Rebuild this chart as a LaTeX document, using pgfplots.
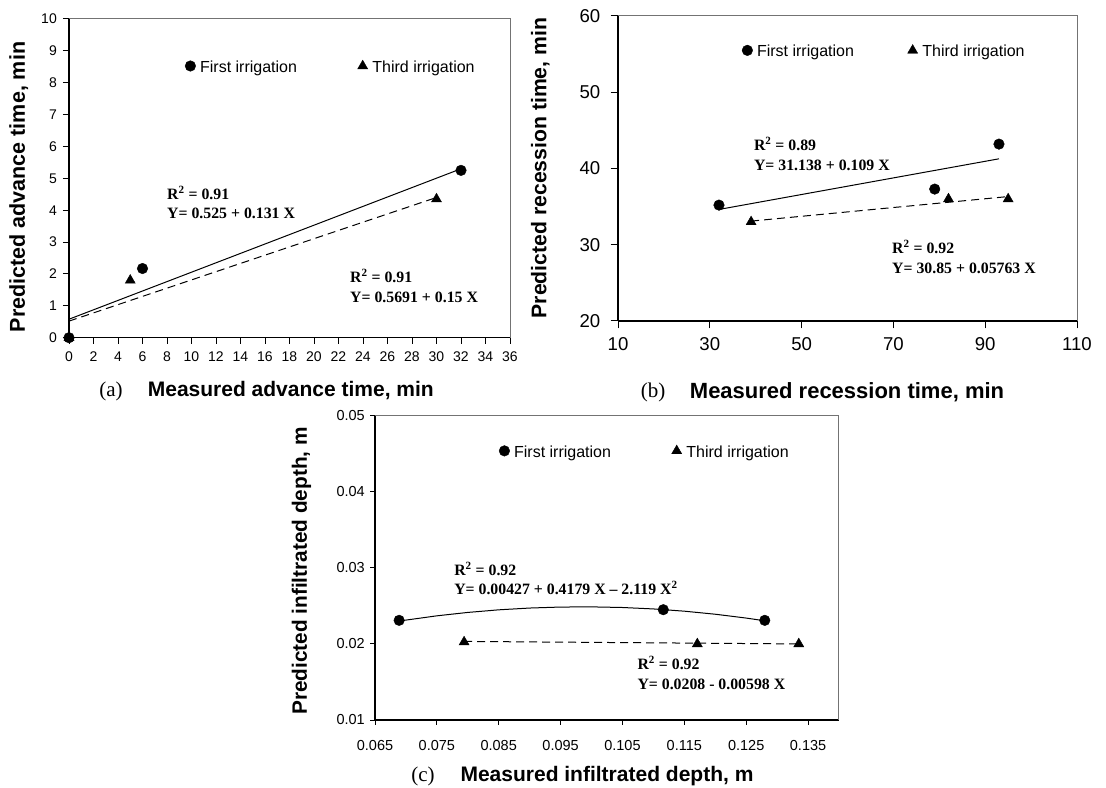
\documentclass[border=0pt]{standalone}
\usepackage{fontspec}
\setmainfont{Liberation Serif}
\setsansfont{Liberation Sans}
\usepackage{pgfplots}
\pgfplotsset{compat=1.18}
\definecolor{framegray}{gray}{0.45}
\tikzset{ann/.style={font=\rmfamily\bfseries\fontsize{15.8bp}{19.5bp}\selectfont, align=left, anchor=west, inner sep=0pt}}
\pgfplotsset{
  common/.style={
    scale only axis, anchor=south west, clip=false,
    axis x line*=bottom, axis y line*=left,
    axis line style={black, line width=1.4bp},
    tick style={black, line width=1bp},
    tick align=outside,
    scaled ticks=false,
    /pgf/number format/assume math mode=true,
    xticklabel style={anchor=north, inner sep=0pt},
    yticklabel style={anchor=east, inner sep=0pt},
    every axis y label/.style={rotate=90, anchor=base},
    every axis x label/.style={anchor=base},
    label style={font=\sffamily\bfseries\fontsize{21bp}{24bp}\selectfont},
    legend style={draw=none, fill=none, legend columns=2, anchor=west,
      inner xsep=0pt, inner ysep=0pt,
      font=\sffamily\fontsize{16bp}{19bp}\selectfont, nodes={inner sep=0pt},
      /tikz/every odd column/.append style={column sep=4bp}},
    legend image code/.code={\path (0bp,0bp) (11bp,0bp); \draw plot coordinates {(5.5bp,1.5bp)};},
  },
  s1/.style={only marks, mark=*, mark size=5.3bp, black},
  s3/.style={only marks, mark=triangle*, mark size=5.8bp, black},
  fit1/.style={black, line width=1bp, no marks},
  fit3/.style={black, line width=1bp, no marks, dash pattern=on 8bp off 5bp},
}
\begin{document}
\begin{tikzpicture}
\useasboundingbox (0,0) rectangle (1106bp,788bp);

% ---------------- (a) ----------------
\begin{axis}[common, at={(69bp,450.3bp)}, width=441bp, height=318.7bp,
  xmin=0, xmax=36, ymin=0, ymax=10,
  xtick={0,2,...,36}, ytick={0,1,...,10},
  major tick length=6bp,
  tick label style={font=\sffamily\fontsize{14bp}{16bp}\selectfont},
  xticklabel style={yshift=-8bp}, yticklabel style={xshift=-6bp},
  xlabel={Measured advance time, min},
  ylabel={Predicted advance time, min},
  xlabel style={at={(axis description cs:0.503,-0.185)}},
  ylabel style={at={(axis description cs:-0.0998,0.473)}, font=\sffamily\bfseries\fontsize{21.5bp}{24bp}\selectfont},
  legend style={at={(axis description cs:0.2619,0.849)},
    /tikz/every even column/.append style={column sep=60bp}},
]
\draw[framegray, line width=1bp] (rel axis cs:0,1) -- (rel axis cs:1,1) -- (rel axis cs:1,0);
\addplot[fit1, forget plot] coordinates {(0,0.58) (32,5.3)};
\addplot[fit3, forget plot] coordinates {(0,0.52) (30,4.4)};
\addplot[s1] coordinates {(0,0) (6,2.17) (32,5.25)};
\addplot[s3] coordinates {(0,0) (5,1.8) (30,4.35)};
\legend{First irrigation, Third irrigation}
\node[ann] at (axis cs:8.0,4.24) {R\textsuperscript{2} = 0.91\\Y= 0.525 + 0.131 X};
\node[ann] at (axis cs:22.94,1.62) {R\textsuperscript{2} = 0.91\\Y= 0.5691 + 0.15 X};
\end{axis}

% ---------------- (b) ----------------
\begin{axis}[common, at={(618bp,467bp)}, width=459bp, height=305bp,
  xmin=10, xmax=110, ymin=20, ymax=60,
  xtick={10,30,...,110}, ytick={20,30,...,60},
  major tick length=7.5bp,
  tick label style={font=\sffamily\fontsize{18.6bp}{21bp}\selectfont},
  xticklabel style={yshift=-9bp}, yticklabel style={xshift=-10bp},
  xlabel={Measured recession time, min},
  ylabel={Predicted recession time, min},
  xlabel style={at={(axis description cs:0.499,-0.2525)}, font=\sffamily\bfseries\fontsize{22bp}{25bp}\selectfont},
  ylabel style={at={(axis description cs:-0.1558,0.5016)}, font=\sffamily\bfseries\fontsize{21.2bp}{24bp}\selectfont},
  legend style={at={(axis description cs:0.269,0.8836)},
    /tikz/every even column/.append style={column sep=53bp}},
]
\draw[framegray, line width=1bp] (rel axis cs:0,1) -- (rel axis cs:1,1) -- (rel axis cs:1,0);
\addplot[fit1, forget plot] coordinates {(32,34.63) (93,41.27)};
\addplot[fit3, forget plot] coordinates {(39,33.10) (95,36.32)};
\addplot[s1] coordinates {(32,35.2) (79,37.3) (93,43.2)};
\addplot[s3] coordinates {(39,33.0) (82,36.0) (95,36.0)};
\legend{First irrigation, Third irrigation}
\node[ann] at (axis cs:39.6,41.9) {R\textsuperscript{2} = 0.89\\Y= 31.138 + 0.109 X};
\node[ann] at (axis cs:69.7,28.4) {R\textsuperscript{2} = 0.92\\Y= 30.85 + 0.05763 X};
\end{axis}

% ---------------- (c) ----------------
\begin{axis}[common, at={(375bp,68bp)}, width=464bp, height=304.3bp,
  xmin=0.065, xmax=0.140, ymin=0.01, ymax=0.05,
  xtick={0.065,0.075,0.085,0.095,0.105,0.115,0.125,0.135},
  xticklabels={0.065,0.075,0.085,0.095,0.105,0.115,0.125,0.135},
  ytick={0.01,0.02,0.03,0.04,0.05},
  yticklabels={0.01,0.02,0.03,0.04,0.05},
  major tick length=5bp,
  tick label style={font=\sffamily\fontsize{14.5bp}{16bp}\selectfont},
  xticklabel style={yshift=-15bp}, yticklabel style={xshift=-5bp},
  xlabel={Measured infiltrated depth, m},
  ylabel={Predicted infiltrated depth, m},
  xlabel style={at={(axis description cs:0.5,-0.2005)}},
  ylabel style={at={(axis description cs:-0.1466,0.4897)}, font=\sffamily\bfseries\fontsize{20.8bp}{24bp}\selectfont},
  legend style={at={(axis description cs:0.2662,0.8807)},
    /tikz/every even column/.append style={column sep=60bp}},
]
\draw[framegray, line width=1bp] (rel axis cs:0,1) -- (rel axis cs:1,1) -- (rel axis cs:1,0);
\addplot[fit1, forget plot] coordinates {
  (0.069,0.02302) (0.075,0.023694) (0.080,0.02414) (0.085,0.024482)
  (0.090,0.024717) (0.095,0.024847) (0.100,0.02487) (0.105,0.024788)
  (0.110,0.024599) (0.115,0.024305) (0.120,0.023904) (0.125,0.023399)
  (0.128,0.02304)};
\addplot[fit3, forget plot] coordinates {(0.0794,0.02033) (0.1335,0.0200)};
\addplot[s1] coordinates {(0.0689,0.0231) (0.1116,0.0245) (0.128,0.0231)};
\addplot[s3] coordinates {(0.0794,0.02025) (0.1171,0.0200) (0.1335,0.0200)};
\legend{First irrigation, Third irrigation}
\node[ann] at (axis cs:0.07778,0.0286) {R\textsuperscript{2} = 0.92\\Y= 0.00427 + 0.4179 X -- 2.119 X\textsuperscript{2}};
\node[ann] at (axis cs:0.1074,0.01618) {R\textsuperscript{2} = 0.92\\Y= 0.0208 - 0.00598 X};
\end{axis}

% panel letters
\node[font=\rmfamily\fontsize{21bp}{24bp}\selectfont, anchor=base] at (111bp,391bp) {(a)};
\node[font=\rmfamily\fontsize{21bp}{24bp}\selectfont, anchor=base] at (653bp,390bp) {(b)};
\node[font=\rmfamily\fontsize{21bp}{24bp}\selectfont, anchor=base] at (423bp,7bp) {(c)};
\end{tikzpicture}
\end{document}
